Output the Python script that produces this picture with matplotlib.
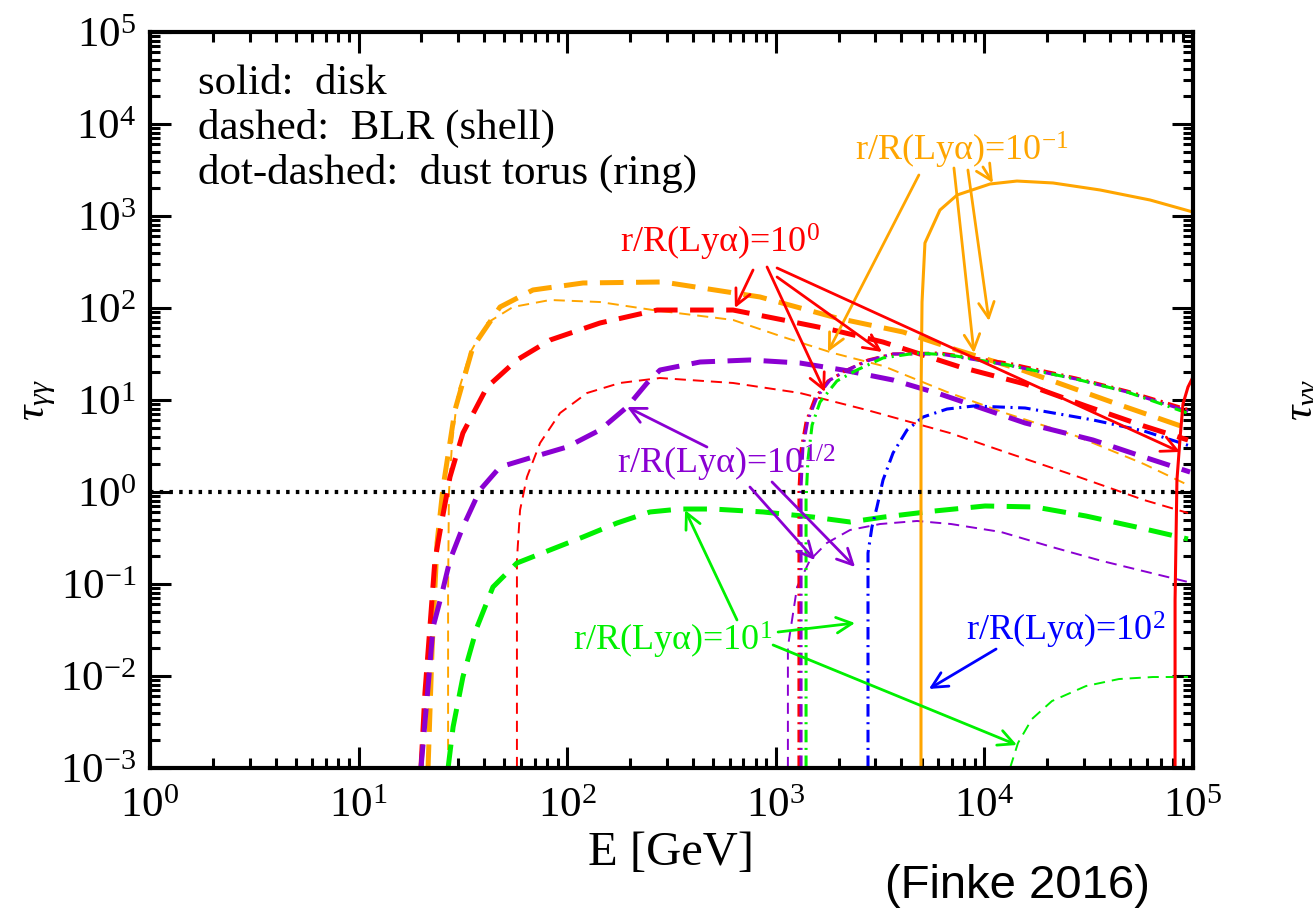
import numpy as np
import matplotlib
matplotlib.use("Agg")
import matplotlib.pyplot as plt

plt.rcParams['font.family'] = 'serif'
plt.rcParams['font.serif'] = ['Liberation Serif', 'DejaVu Serif']
plt.rcParams['mathtext.fontset'] = 'custom'
plt.rcParams['mathtext.rm'] = 'Liberation Serif'
plt.rcParams['mathtext.it'] = 'Liberation Serif:italic'
plt.rcParams['lines.scale_dashes'] = False
plt.rcParams['axes.unicode_minus'] = False

# ---- data: log10(E/GeV), log10(tau) ----
# BLR thick dashed
orange_thick_logE = [1.333, 1.352, 1.376, 1.405, 1.462, 1.548, 1.678, 1.836, 2.076, 2.459,
                     2.924, 3.293, 3.610, 3.869, 4.180, 4.636, 4.928, 4.98]
orange_thick_logt = [-3.0, -1.72, -0.554, 0.054, 0.891, 1.576, 2.011, 2.196, 2.272, 2.283,
                     2.12, 1.891, 1.739, 1.543, 1.326, 0.957, 0.728, 0.69]
red_thick_logE = [1.299, 1.318, 1.342, 1.366, 1.400, 1.438, 1.500, 1.616, 1.759, 1.918, 2.157,
                  2.431, 2.795, 3.035, 3.274, 3.514, 3.883, 4.195, 4.487, 4.765, 4.976]
red_thick_logt = [-3.0, -2.185, -1.467, -0.739, -0.304, 0.163, 0.641, 1.141, 1.435, 1.652, 1.837,
                  1.978, 1.978, 1.870, 1.761, 1.630, 1.359, 1.174, 0.935, 0.717, 0.565]
purple_thick_logE = [1.299, 1.333, 1.357, 1.400, 1.438, 1.500, 1.582, 1.678, 1.836, 1.999, 2.157,
                     2.287, 2.383, 2.445, 2.637, 2.876, 3.116, 3.322, 3.562, 3.787, 4.195,
                     4.521, 4.765, 4.986]
purple_thick_logt = [-3.0, -2.12, -1.467, -1.098, -0.739, -0.380, 0.022, 0.272, 0.380, 0.489, 0.674,
                     0.924, 1.185, 1.326, 1.413, 1.435, 1.402, 1.326, 1.217, 1.065, 0.750,
                     0.565, 0.380, 0.217]
green_thick_logE = [1.429, 1.453, 1.500, 1.568, 1.644, 1.759, 1.918, 2.076, 2.239, 2.397, 2.541,
                    2.699, 2.939, 3.178, 3.356, 3.519, 3.758, 4.003, 4.243, 4.487, 4.727, 4.976]
green_thick_logt = [-3.0, -2.554, -2.011, -1.467, -1.033, -0.772, -0.630, -0.489, -0.337, -0.217,
                    -0.185, -0.185, -0.217, -0.272, -0.326, -0.272, -0.207, -0.152, -0.163,
                    -0.261, -0.380, -0.511]
# BLR thin dashed
orange_thin_logE = [1.429, 1.429, 1.433, 1.448, 1.476, 1.534, 1.616, 1.740, 1.918, 2.157, 2.411,
                    2.795, 3.035, 3.274, 3.514, 3.821, 4.113, 4.439, 4.765, 4.986]
orange_thin_logt = [-3.0, -1.098, -0.011, 0.533, 1.076, 1.511, 1.837, 2.011, 2.087, 2.065, 1.978,
                    1.870, 1.685, 1.511, 1.370, 1.087, 0.848, 0.609, 0.304, 0.065]
red_thin_logE = [1.759, 1.759, 1.774, 1.807, 1.870, 1.966, 2.095, 2.253, 2.445, 2.795, 3.116,
                 3.437, 3.835, 4.113, 4.439, 4.765, 4.976]
red_thin_logt = [-3.0, -0.739, -0.196, 0.163, 0.533, 0.859, 1.076, 1.185, 1.239, 1.185, 1.076,
                 0.891, 0.641, 0.424, 0.174, -0.087, -0.228]
purple_thin_logE = [3.058, 3.058, 3.102, 3.164, 3.245, 3.356, 3.500, 3.677, 3.840, 4.080, 4.324,
                    4.564, 4.976]
purple_thin_logt = [-3.0, -1.685, -1.033, -0.739, -0.554, -0.413, -0.348, -0.315, -0.348, -0.435,
                    -0.598, -0.750, -0.978]
green_thin_logE = [4.123, 4.161, 4.228, 4.324, 4.487, 4.645, 4.808, 4.976]
green_thin_logt = [-3.0, -2.728, -2.467, -2.272, -2.109, -2.033, -2.011, -2.011]
# dust torus dot-dashed
red_dd_logE = [3.111, 3.111, 3.121, 3.145, 3.188, 3.250, 3.332, 3.442, 3.562, 3.787, 4.113,
               4.439, 4.684, 4.986]
red_dd_logt = [-3.0, 0.022, 0.457, 0.761, 1.022, 1.207, 1.315, 1.435, 1.500, 1.511, 1.402,
               1.239, 1.098, 0.891]
purple_dd_logE = [3.121, 3.121, 3.130, 3.154, 3.198, 3.260, 3.341, 3.452, 3.562, 3.787, 4.113,
                  4.439, 4.684, 4.986]
purple_dd_logt = [-3.0, 0.054, 0.489, 0.783, 1.033, 1.217, 1.326, 1.435, 1.500, 1.500, 1.380,
                  1.228, 1.087, 0.870]
green_dd_logE = [3.145, 3.145, 3.154, 3.174, 3.212, 3.293, 3.389, 3.514, 3.677, 3.835, 4.113,
                 4.439, 4.684, 4.986]
green_dd_logt = [-3.0, -0.087, 0.348, 0.728, 0.978, 1.207, 1.326, 1.457, 1.511, 1.489, 1.380,
                 1.228, 1.087, 0.848]
blue_dd_logE = [3.442, 3.442, 3.461, 3.485, 3.514, 3.562, 3.629, 3.706, 3.821, 3.950, 4.195,
                4.521, 4.765, 4.986]
blue_dd_logt = [-3.0, -0.663, -0.380, -0.163, 0.130, 0.424, 0.674, 0.815, 0.902, 0.935, 0.913,
                0.783, 0.663, 0.500]
# accretion disk solid
orange_solid_logE = [3.696, 3.696, 3.701, 3.715, 3.787, 3.869, 4.027, 4.156, 4.329, 4.554, 4.794, 5.0]
orange_solid_logt = [-3.0, 1.0, 2.065, 2.707, 3.065, 3.228, 3.348, 3.380, 3.359, 3.283, 3.174, 3.043]
red_solid_logE = [4.914, 4.914, 4.923, 4.938, 4.952, 4.976, 5.0]
red_solid_logt = [-3.0, -1.174, 0.130, 0.587, 0.957, 1.141, 1.250]

ORANGE = '#FFA500'
RED = '#FF0000'
PURPLE = '#8A00D2'
GREEN = '#00F000'
BLUE = '#0000FF'

thick = dict(lw=3.6, dashes=(17, 9))
thin = dict(lw=1.4, dashes=(8, 5))
dd = dict(lw=2.2, dashes=(9, 4, 1.5, 4))
solid = dict(lw=2.2)

curves = [
    (orange_thin_logE, orange_thin_logt, ORANGE, thin),
    (red_thin_logE, red_thin_logt, RED, thin),
    (purple_thin_logE, purple_thin_logt, PURPLE, thin),
    (green_thin_logE, green_thin_logt, GREEN, thin),
    (orange_thick_logE, orange_thick_logt, ORANGE, thick),
    (red_thick_logE, red_thick_logt, RED, thick),
    (purple_thick_logE, purple_thick_logt, PURPLE, thick),
    (green_thick_logE, green_thick_logt, GREEN, thick),
    (blue_dd_logE, blue_dd_logt, BLUE, dd),
    (red_dd_logE, red_dd_logt, RED, dd),
    (purple_dd_logE, purple_dd_logt, PURPLE, dd),
    (green_dd_logE, green_dd_logt, GREEN, dd),
    (orange_solid_logE, orange_solid_logt, ORANGE, solid),
    (red_solid_logE, red_solid_logt, RED, solid),
]

fig = plt.figure(figsize=(13.13, 9.18), dpi=100)
ax = fig.add_axes([150 / 1313, 1 - 768 / 918, 1043 / 1313, 736 / 918])

for lx, ly, c, st in curves:
    ax.plot(10 ** np.array(lx), 10 ** np.array(ly), color=c, **st)

ax.axhline(1.0, color='k', lw=3, dashes=(2.5, 4.5))

ax.set_xscale('log')
ax.set_yscale('log')
ax.set_xlim(1, 1e5)
ax.set_ylim(1e-3, 1e5)
ax.set_yticks([10.0 ** k for k in range(-3, 6)])

for s in ax.spines.values():
    s.set_linewidth(3)
ax.tick_params(which='both', direction='in', top=True, right=True, width=2.2, labelsize=31)
ax.tick_params(which='major', length=15)
ax.tick_params(which='minor', length=7.5)
ax.tick_params(axis='x', pad=14)
ax.tick_params(axis='y', pad=10)

ax.set_xlabel('E [GeV]', fontsize=35)
ax.xaxis.set_label_coords(0.5, -0.085)
ax.set_ylabel(r'$\tau_{\gamma\gamma}$', fontsize=31)
ax.yaxis.set_label_coords(-0.088, 0.5)

ax.text(0.046, 0.93, 'solid:  disk', transform=ax.transAxes, fontsize=31, va='center')
ax.text(0.046, 0.869, 'dashed:  BLR (shell)', transform=ax.transAxes, fontsize=31, va='center')
ax.text(0.046, 0.808, 'dot-dashed:  dust torus (ring)', transform=ax.transAxes, fontsize=31, va='center')

# labels: (text, colour, label position, arrows [(start, tip)]) in log10 coords
labels = [
    ('r/R(Lyα)=10$^{-1}$', ORANGE, (3.380, 3.717),
     [((3.686, 3.446), (3.250, 1.522)), ((3.854, 3.522), (3.950, 1.511)),
      ((3.921, 3.500), (4.022, 1.859)), ((3.993, 3.533), (4.041, 3.359))]),
    ('r/R(Lyα)=10$^{0}$', RED, (2.253, 2.717),
     [((2.891, 2.413), (2.804, 2.0)), ((2.958, 2.446), (3.236, 1.087)),
      ((3.006, 2.337), (3.509, 1.522)), ((3.006, 2.435), (4.938, 0.435))]),
    ('r/R(Lyα)=10$^{1/2}$', PURPLE, (2.239, 0.315),
     [((2.670, 0.489), (2.287, 0.924)), ((2.876, 0.054), (3.188, -0.739)),
      ((2.982, 0.109), (3.380, -0.815))]),
    ('r/R(Lyα)=10$^{1}$', GREEN, (2.028, -1.609),
     [((2.814, -1.391), (2.565, -0.196)), ((3.011, -1.522), (3.380, -1.424)),
      ((2.987, -1.663), (4.156, -2.750))]),
    ('r/R(Lyα)=10$^{2}$', BLUE, (3.912, -1.5),
     [((4.056, -1.707), (3.734, -2.141))]),
]
for txt, c, (tx, ty), arrows in labels:
    ax.text(10 ** tx, 10 ** ty, txt, color=c, fontsize=26, va='center', ha='left')
    for (sx, sy), (ex, ey) in arrows:
        ax.annotate('', xy=(10 ** ex, 10 ** ey), xytext=(10 ** sx, 10 ** sy),
                    arrowprops=dict(arrowstyle='->', color=c, lw=2, mutation_scale=28,
                                    shrinkA=0, shrinkB=0))

fig.text(1017 / 1313, 1 - 886 / 918, '(Finke 2016)', fontsize=34, family='Liberation Sans',
         ha='center', va='center')
# edge of the neighbouring panel's axis label, cut by the figure border as in the source
fig.text(1288 / 1313, 1 - 400 / 918, r'$\tau_{\gamma\gamma}$', fontsize=31, rotation=90,
         ha='left', va='center')

fig.savefig('out.png', dpi=100)
